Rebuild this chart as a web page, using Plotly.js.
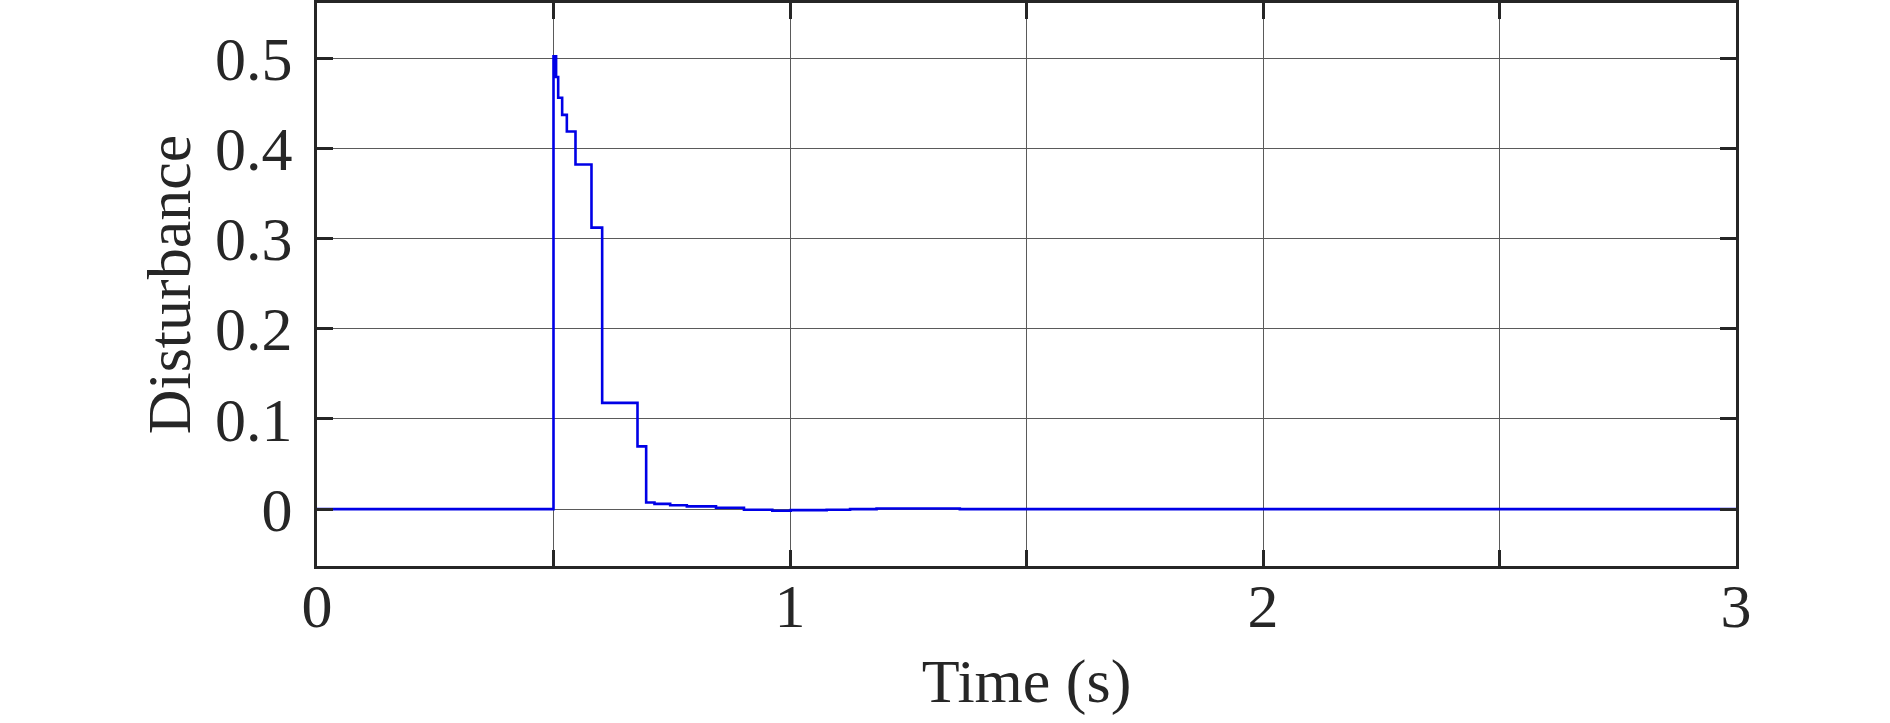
<!DOCTYPE html>
<html>
<head>
<meta charset="utf-8">
<script src="https://cdn.plot.ly/plotly-3.0.1.min.js"></script>
<style>html,body{margin:0;padding:0;background:#fff;}#chart{width:1890px;height:723px;}</style>
</head>
<body>
<div id="chart"></div>
<script>
// Time samples (s) where the disturbance value changes (step / zero-order-hold signal)
const timeSec = [0, 0.5, 0.5055, 0.5099, 0.5183, 0.5282, 0.5465, 0.5803, 0.6029, 0.6776, 0.6959,
                 0.7135, 0.7467, 0.7819, 0.8436, 0.9027, 0.9626, 1.0014, 1.0775, 1.127, 1.183, 1.359, 3];
// Disturbance values held from each time sample
const disturbance = [0, 0.502, 0.479, 0.456, 0.437, 0.4185, 0.382, 0.312, 0.1178, 0.0696, 0.0074,
                     0.0059, 0.0044, 0.0031, 0.0015, -0.0007, -0.0018, -0.0011, -0.0007, 0.0, 0.0007, 0.0, 0.0];
const xTickVals = [0, 0.5, 1, 1.5, 2, 2.5, 3];
const xTickText = ['0', '', '1', '', '2', '', '3'];
const yTickVals = [0, 0.1, 0.2, 0.3, 0.4, 0.5];
const yTickText = ['0', '0.1', '0.2', '0.3', '0.4', '0.5'];

const axisColor = '#262626';
const fontFam = '"Liberation Serif", "Times New Roman", serif';

const trace = {
  x: timeSec, y: disturbance, type: 'scatter', mode: 'lines',
  line: {color: '#0000e6', width: 2.6, shape: 'hv'},
  hoverinfo: 'skip'
};

const layout = {
  width: 1890, height: 723,
  margin: {l: 317, r: 154, t: 3, b: 157, pad: 0},
  paper_bgcolor: '#ffffff', plot_bgcolor: '#ffffff',
  showlegend: false,
  font: {family: fontFam, color: axisColor, size: 62},
  xaxis: {
    range: [0, 3], tickmode: 'array', tickvals: xTickVals, ticktext: xTickText,
    showgrid: true, gridcolor: '#5a5a5a', gridwidth: 1, zeroline: false,
    showline: true, linecolor: axisColor, linewidth: 3, mirror: 'ticks',
    ticks: 'inside', ticklen: 16, tickwidth: 3, tickcolor: axisColor,
    tickfont: {family: fontFam, size: 62, color: axisColor},
    ticklabelstandoff: -16,
    title: {text: 'Time (s)', font: {family: fontFam, size: 62, color: axisColor}, standoff: 20},
    automargin: false, fixedrange: true
  },
  yaxis: {
    range: [-0.063, 0.561], tickmode: 'array', tickvals: yTickVals, ticktext: yTickText,
    showgrid: true, gridcolor: '#5a5a5a', gridwidth: 1, zeroline: false,
    showline: true, linecolor: axisColor, linewidth: 3, mirror: 'ticks',
    ticks: 'inside', ticklen: 16, tickwidth: 3, tickcolor: axisColor,
    tickfont: {family: fontFam, size: 62, color: axisColor},
    ticklabelstandoff: 9,
    title: {text: 'Disturbance', font: {family: fontFam, size: 62, color: axisColor}, standoff: 5},
    automargin: false, fixedrange: true
  }
};

Plotly.newPlot('chart', [trace], layout, {displayModeBar: false, staticPlot: true});
</script>
</body>
</html>
